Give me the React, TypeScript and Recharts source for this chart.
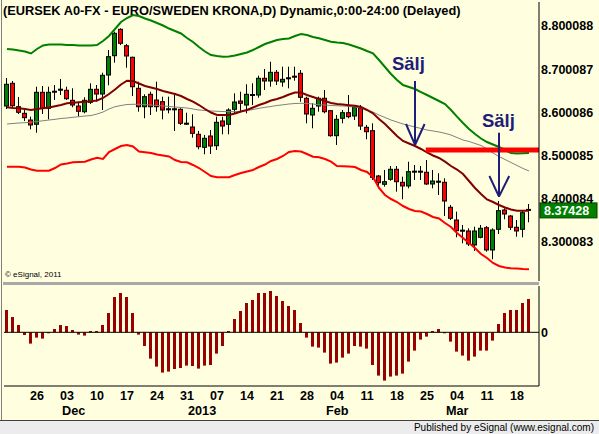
import React from 'react';
import { ComposedChart, Bar, Line, XAxis, YAxis, ReferenceLine, ReferenceDot } from 'recharts';

const dates = [
  '2012-11-19','2012-11-20','2012-11-21','2012-11-22','2012-11-23','2012-11-26','2012-11-27','2012-11-28','2012-11-29','2012-11-30',
  '2012-12-03','2012-12-04','2012-12-05','2012-12-06','2012-12-07','2012-12-10','2012-12-11','2012-12-12','2012-12-13','2012-12-14',
  '2012-12-17','2012-12-18','2012-12-19','2012-12-20','2012-12-21','2012-12-24','2012-12-25','2012-12-26','2012-12-27','2012-12-28',
  '2012-12-31','2013-01-01','2013-01-02','2013-01-03','2013-01-04','2013-01-07','2013-01-08','2013-01-09','2013-01-10','2013-01-11',
  '2013-01-14','2013-01-15','2013-01-16','2013-01-17','2013-01-18','2013-01-21','2013-01-22','2013-01-23','2013-01-24','2013-01-25',
  '2013-01-28','2013-01-29','2013-01-30','2013-01-31','2013-02-01','2013-02-04','2013-02-05','2013-02-06','2013-02-07','2013-02-08',
  '2013-02-11','2013-02-12','2013-02-13','2013-02-14','2013-02-15','2013-02-18','2013-02-19','2013-02-20','2013-02-21','2013-02-22',
  '2013-02-25','2013-02-26','2013-02-27','2013-02-28','2013-03-01','2013-03-04','2013-03-05','2013-03-06','2013-03-07','2013-03-08',
  '2013-03-11','2013-03-12','2013-03-13','2013-03-14','2013-03-15','2013-03-18','2013-03-19','2013-03-20',
];

const openPrices = [
  8.6148, 8.6674, 8.6132, 8.5979, 8.5824, 8.5725, 8.6465, 8.6095, 8.6479, 8.6526,
  8.6512, 8.6280, 8.6148, 8.6016, 8.6234, 8.6535, 8.6426, 8.6866, 8.7313, 8.7924,
  8.7544, 8.7276, 8.6558, 8.6132, 8.6419, 8.6287, 8.6248, 8.6072, 8.6072, 8.6072,
  8.5739, 8.5662, 8.5493, 8.5192, 8.5454, 8.5229, 8.5801, 8.5725, 8.6072, 8.6264,
  8.6171, 8.6403, 8.6403, 8.6790, 8.6727, 8.6928, 8.6704, 8.6790, 8.6827, 8.6905,
  8.6327, 8.5940, 8.6148, 8.6327, 8.6040, 8.5461, 8.5864, 8.5993, 8.5917, 8.6095,
  8.5655, 8.5577, 8.4528, 8.4336, 8.4452, 8.4683, 8.4382, 8.4297, 8.4628, 8.4628,
  8.4614, 8.4343, 8.4396, 8.4382, 8.3803, 8.3509, 8.3262, 8.3255, 8.2931, 8.3109,
  8.3331, 8.2815, 8.3294, 8.3741, 8.3602, 8.3341, 8.3294, 8.3725,
];

const highPrices = [
  8.6796, 8.6727, 8.6357, 8.6056, 8.5901, 8.6595, 8.6611, 8.6595, 8.6634, 8.6773,
  8.6595, 8.6558, 8.6225, 8.6350, 8.6674, 8.6634, 8.6919, 8.7445, 8.7868, 8.7947,
  8.7584, 8.7290, 8.6711, 8.6419, 8.6479, 8.6711, 8.6364, 8.6364, 8.6442, 8.6095,
  8.5993, 8.5956, 8.5570, 8.5477, 8.5593, 8.5901, 8.5901, 8.6095, 8.6442, 8.6479,
  8.6651, 8.6674, 8.6850, 8.7005, 8.7174, 8.6982, 8.7058, 8.7058, 8.7058, 8.6982,
  8.6364, 8.6211, 8.6364, 8.6519, 8.6056, 8.5940, 8.6056, 8.6403, 8.6171, 8.6171,
  8.5709, 8.5748, 8.4551, 8.4667, 8.4759, 8.4759, 8.4512, 8.4859, 8.4783, 8.4759,
  8.4898, 8.4667, 8.4590, 8.4475, 8.3857, 8.3702, 8.3394, 8.3317, 8.3354, 8.3394,
  8.3371, 8.3317, 8.3949, 8.3780, 8.3625, 8.3509, 8.3718, 8.3880,
];

const lowPrices = [
  8.6079, 8.6125, 8.5963, 8.5801, 8.5609, 8.5530, 8.5963, 8.5840, 8.6287, 8.6403,
  8.6287, 8.6118, 8.5901, 8.5979, 8.6195, 8.6248, 8.6056, 8.6628, 8.7151, 8.7560,
  8.7035, 8.6380, 8.6016, 8.5864, 8.5940, 8.6016, 8.5840, 8.5979, 8.5570, 8.5709,
  8.5709, 8.5415, 8.5146, 8.5030, 8.5037, 8.5130, 8.5493, 8.5493, 8.5979, 8.6003,
  8.5979, 8.6171, 8.6340, 8.6519, 8.6595, 8.6634, 8.6595, 8.6558, 8.6734, 8.6248,
  8.5748, 8.5632, 8.6016, 8.5979, 8.5438, 8.5246, 8.5748, 8.5864, 8.5824, 8.5593,
  8.5378, 8.4435, 8.4243, 8.4280, 8.4419, 8.4165, 8.3989, 8.4243, 8.4435, 8.4435,
  8.4320, 8.4243, 8.4088, 8.3602, 8.3509, 8.3109, 8.2970, 8.2908, 8.2792, 8.3086,
  8.2776, 8.2600, 8.3185, 8.3526, 8.3278, 8.3123, 8.3109, 8.3456,
];

const closePrices = [
  8.6651, 8.6155, 8.6003, 8.5878, 8.5709, 8.6465, 8.6095, 8.6465, 8.6479, 8.6526,
  8.6317, 8.6171, 8.6026, 8.6280, 8.6535, 8.6426, 8.6859, 8.7290, 8.7831, 8.7600,
  8.7306, 8.6595, 8.6132, 8.6364, 8.6132, 8.6132, 8.6056, 8.6072, 8.6072, 8.5748,
  8.5739, 8.5516, 8.5206, 8.5401, 8.5222, 8.5771, 8.5685, 8.6056, 8.6241, 8.6211,
  8.6419, 8.6403, 8.6790, 8.6727, 8.6928, 8.6727, 8.6766, 8.6790, 8.6827, 8.6350,
  8.5963, 8.6095, 8.6327, 8.6016, 8.5461, 8.5840, 8.5993, 8.5901, 8.6118, 8.5685,
  8.5553, 8.4498, 8.4373, 8.4396, 8.4683, 8.4396, 8.4297, 8.4628, 8.4628, 8.4628,
  8.4343, 8.4412, 8.4396, 8.3949, 8.3549, 8.3262, 8.3262, 8.2954, 8.3255, 8.3317,
  8.2815, 8.3278, 8.3725, 8.3648, 8.3341, 8.3255, 8.3678, 8.37428,
];

const upperBand = [
  8.7468, 8.7456, 8.7433, 8.7410, 8.7364, 8.7468, 8.7549, 8.7572, 8.7572, 8.7572,
  8.7560, 8.7560, 8.7549, 8.7549, 8.7549, 8.7560, 8.7653, 8.7769, 8.7931, 8.8093,
  8.8185, 8.8255, 8.8232, 8.8174, 8.8128, 8.8070, 8.8012, 8.7942, 8.7884, 8.7827,
  8.7722, 8.7630, 8.7514, 8.7410, 8.7329, 8.7306, 8.7290, 8.7294, 8.7317, 8.7352,
  8.7387, 8.7445, 8.7514, 8.7584, 8.7630, 8.7676, 8.7699, 8.7711, 8.7769, 8.7815,
  8.7792, 8.7746, 8.7715, 8.7676, 8.7637, 8.7618, 8.7607, 8.7572, 8.7526, 8.7479,
  8.7421, 8.7368, 8.7213, 8.7051, 8.6889, 8.6750, 8.6634, 8.6588, 8.6542, 8.6472,
  8.6403, 8.6334, 8.6264, 8.6195, 8.6056, 8.5901, 8.5755, 8.5616, 8.5500, 8.5396,
  8.5315, 8.5257, 8.5199, 8.5130, 8.5060, 8.5049, 8.5053, 8.5060,
];

const lowerBand = [
  8.4743, 8.4743, 8.4743, 8.4725, 8.4678, 8.4651, 8.4651, 8.4651, 8.4713, 8.4794,
  8.4817, 8.4845, 8.4852, 8.4859, 8.4910, 8.4952, 8.4921, 8.5083, 8.5153, 8.5222,
  8.5246, 8.5211, 8.5095, 8.5077, 8.5060, 8.5026, 8.5002, 8.4979, 8.4898, 8.4852,
  8.4845, 8.4783, 8.4713, 8.4621, 8.4528, 8.4498, 8.4498, 8.4498, 8.4551, 8.4597,
  8.4632, 8.4667, 8.4736, 8.4794, 8.4875, 8.4921, 8.4991, 8.5083, 8.5107, 8.5095,
  8.5037, 8.4975, 8.4961, 8.4921, 8.4859, 8.4759, 8.4752, 8.4748, 8.4736, 8.4667,
  8.4621, 8.4505, 8.4250, 8.4088, 8.3995, 8.3926, 8.3833, 8.3764, 8.3718, 8.3706,
  8.3648, 8.3579, 8.3544, 8.3440, 8.3347, 8.3208, 8.3093, 8.2977, 8.2861, 8.2722,
  8.2630, 8.2514, 8.2445, 8.2410, 8.2391, 8.2387, 8.2375, 8.2368,
];

const fastAverage = [
  8.6118, 8.6102, 8.6095, 8.6079, 8.6056, 8.6079, 8.6095, 8.6114, 8.6141, 8.6171,
  8.6211, 8.6222, 8.6234, 8.6246, 8.6257, 8.6276, 8.6334, 8.6426, 8.6530, 8.6646,
  8.6734, 8.6727, 8.6669, 8.6611, 8.6577, 8.6542, 8.6496, 8.6461, 8.6426, 8.6380,
  8.6310, 8.6248, 8.6171, 8.6079, 8.5998, 8.5940, 8.5940, 8.5940, 8.5975, 8.6021,
  8.6056, 8.6114, 8.6171, 8.6218, 8.6276, 8.6310, 8.6357, 8.6415, 8.6461, 8.6461,
  8.6403, 8.6357, 8.6310, 8.6264, 8.6218, 8.6195, 8.6183, 8.6167, 8.6153, 8.6125,
  8.6056, 8.5979, 8.5847, 8.5732, 8.5593, 8.5454, 8.5338, 8.5280, 8.5222, 8.5153,
  8.5072, 8.5002, 8.4945, 8.4859, 8.4759, 8.4678, 8.4574, 8.4412, 8.4250, 8.4111,
  8.3984, 8.3926, 8.3857, 8.3799, 8.3753, 8.3725, 8.3725, 8.3725,
];

const slowAverage = [
  8.5732, 8.5743, 8.5755, 8.5762, 8.5773, 8.5790, 8.5806, 8.5824, 8.5840, 8.5859,
  8.5871, 8.5887, 8.5901, 8.5917, 8.5928, 8.5963, 8.6009, 8.6079, 8.6132, 8.6160,
  8.6183, 8.6188, 8.6188, 8.6183, 8.6171, 8.6160, 8.6148, 8.6137, 8.6125, 8.6114,
  8.6102, 8.6079, 8.6056, 8.6044, 8.6033, 8.6026, 8.6021, 8.6016, 8.6016, 8.6028,
  8.6044, 8.6067, 8.6095, 8.6118, 8.6137, 8.6160, 8.6176, 8.6195, 8.6206, 8.6211,
  8.6206, 8.6195, 8.6176, 8.6171, 8.6160, 8.6153, 8.6148, 8.6137, 8.6125, 8.6102,
  8.6056, 8.6009, 8.5940, 8.5882, 8.5824, 8.5778, 8.5732, 8.5697, 8.5662, 8.5628,
  8.5593, 8.5570, 8.5547, 8.5516, 8.5477, 8.5419, 8.5361, 8.5327, 8.5280, 8.5234,
  8.5153, 8.5060, 8.4979, 8.4910, 8.4840, 8.4771, 8.4702, 8.4644,
];

const oscillator = [
  0.0223, 0.0153, 0.0073, -0.0027, -0.0113, -0.0053, -0.0063, -0.0003, 0.0033, 0.0073,
  0.0063, 0.0023, -0.0023, -0.0033, 0.0013, 0.0013, 0.0073, 0.0193, 0.0353, 0.0393,
  0.0353, 0.0193, -0.0023, -0.0137, -0.0263, -0.0343, -0.0403, -0.0393, -0.0367, -0.0357,
  -0.0333, -0.0337, -0.0363, -0.0333, -0.0327, -0.0213, -0.0137, 0.0013, 0.0133, 0.0213,
  0.0293, 0.0323, 0.0393, 0.0393, 0.0413, 0.0363, 0.0313, 0.0263, 0.0223, 0.0093,
  -0.0053, -0.0143, -0.0153, -0.0203, -0.0313, -0.0303, -0.0253, -0.0213, -0.0137, -0.0143,
  -0.0163, -0.0327, -0.0433, -0.0483, -0.0443, -0.0433, -0.0413, -0.0293, -0.0183, -0.0073,
  -0.0043, 0.0013, 0.0033, -0.0003, -0.0093, -0.0193, -0.0233, -0.0283, -0.0243, -0.0183,
  -0.0183, -0.0083, 0.0083, 0.0193, 0.0223, 0.0223, 0.0293, 0.0333,
];

const priceTicks = [8.300083, 8.400084, 8.500085, 8.600086, 8.700087, 8.800088];
const weekTickIndex = [5, 10, 15, 20, 25, 30, 35, 40, 45, 50, 55, 60, 65, 70, 75, 80, 85];
const weekTickLabels = ['26', '03', '10', '17', '24', '31', '07', '14', '21', '28', '04', '11', '18', '25', '04', '11', '18'];
const monthTickIndex = [9.5, 30.5, 53.5, 73.5];
const monthTickLabels = ['Dec', '2013', 'Feb', 'Mar'];
const lastPrice = 8.37428;

const titleText = '(EURSEK A0-FX - EURO/SWEDEN KRONA,D) Dynamic,0:00-24:00 (Delayed)';

const sellArrows = [
  { label: 'Sälj', textX: 66.9, textY: 8.6982, x: 68, top: 8.6727, tip: 8.5246, armY: 8.5732, armL: 66.5, armR: 69.6 },
  { label: 'Sälj', textX: 81.9, textY: 8.5662, x: 82, top: 8.5530, tip: 8.4049, armY: 8.4528, armL: 80.4, armR: 83.7 },
];
const resistance = { from: 69.8, to: 88.6667, y: 8.513 };

const data = dates.map((d, i) => ({
  i,
  date: d,
  o: openPrices[i],
  h: highPrices[i],
  l: lowPrices[i],
  c: closePrices[i],
  up: upperBand[i],
  lo: lowerBand[i],
  ma: fastAverage[i],
  ma2: slowAverage[i],
  osc: oscillator[i],
}));

const FONT = 'Arial, "Liberation Sans", sans-serif';
const BG = '#FFFFE0';
const NAVY = '#1E1E78';
const X_DOMAIN: [number, number] = [-0.5, 88.6667];

function Candle(props: any) {
  const { x, y, width, height, payload } = props;
  if (x == null || y == null || !payload) return null;
  const top = Math.min(y, y + height);
  const h = Math.abs(height);
  const hi = payload.h;
  const lo = payload.l;
  const toY = (v: number) => top + ((hi - v) / (hi - lo)) * h;
  const cx = Math.floor(x + width / 2 + 0.01) + 0.5;
  const yo = toY(payload.o);
  const yc = toY(payload.c);
  const bTop = Math.min(yo, yc);
  const bBot = Math.max(yo, yc);
  const tiny = bBot - bTop < 1.2;
  const fill = tiny ? '#000' : payload.c > payload.o ? '#008000' : '#FF0000';
  return (
    <g>
      <line x1={cx} x2={cx} y1={top} y2={top + h} stroke="#000" strokeWidth={1} />
      <rect x={cx - 2} y={tiny ? yc - 0.5 : bTop} width={4} height={tiny ? 1 : bBot - bTop} fill={fill} stroke="#000" strokeWidth={1} />
    </g>
  );
}

function OscBar(props: any) {
  const { x, y, width, height } = props;
  if (x == null || y == null) return null;
  const cx = Math.floor(x + width / 2 + 0.01);
  const top = Math.min(y, y + height);
  const h = Math.max(1, Math.abs(height));
  return <rect x={cx - 1} y={top} width={3} height={h} fill="#990000" />;
}

function MonthTick(props: any) {
  const { x, y, payload } = props;
  const idx = monthTickIndex.indexOf(payload.value);
  return (
    <text x={x - 2} y={y} dy="0.71em" textAnchor="start" fill="#000" fontSize={12.7} fontWeight="bold" fontFamily={FONT}>
      {monthTickLabels[idx]}
    </text>
  );
}

function SellLabel(text: string) {
  return (props: any) => {
    const vb = props.viewBox || {};
    const cx = (vb.x || 0) + (vb.width || 0) / 2;
    const cy = (vb.y || 0) + (vb.height || 0) / 2;
    return (
      <text x={cx} y={cy} textAnchor="middle" fill={NAVY} fontSize={18.5} fontWeight="bold" fontFamily={FONT}>
        {text}
      </text>
    );
  };
}

function LastPriceLabel(props: any) {
  const vb = props.viewBox || {};
  const right = (vb.x || 0) + (vb.width || 0);
  const cy = (vb.y || 0) + (vb.height || 0) / 2;
  return (
    <g>
      <rect x={right + 1} y={cy - 7} width={57} height={15} fill="#008000" stroke="#004000" strokeWidth={1} />
      <text x={right + 5} y={cy + 5} fill="#fff" fontSize={12.5} fontWeight="bold" fontFamily={FONT}>
        {lastPrice.toFixed(5)}
      </text>
    </g>
  );
}

export default function App() {
  return (
    <div style={{ position: 'absolute', left: 0, top: 0, width: 599, height: 434, background: BG, overflow: 'hidden', fontFamily: FONT }}>
      <div style={{ position: 'absolute', left: 0, top: 0 }}>
        <ComposedChart width={599} height={284} data={data} margin={{ top: 2, right: 0, bottom: 3, left: 4 }}>
          <XAxis type="number" dataKey="i" domain={X_DOMAIN} allowDataOverflow hide />
          <YAxis
            orientation="right"
            width={60}
            domain={[8.2097, 8.8556]}
            allowDataOverflow
            ticks={priceTicks}
            interval={0}
            tickFormatter={(v: number) => v.toFixed(6)}
            tickLine={false}
            tickSize={0}
            tickMargin={2}
            axisLine={{ stroke: '#000' }}
            tick={{ fill: '#000', fontSize: 12.5, fontWeight: 'bold', fontFamily: FONT }}
          />
          <Line type="linear" dataKey="ma2" stroke="#808080" strokeWidth={1} dot={false} isAnimationActive={false} />
          <Line type="linear" dataKey="up" stroke="#008000" strokeWidth={2} dot={false} isAnimationActive={false} />
          <Line type="linear" dataKey="lo" stroke="#FF0000" strokeWidth={2} dot={false} isAnimationActive={false} />
          <Line type="linear" dataKey="ma" stroke="#800000" strokeWidth={2} dot={false} isAnimationActive={false} />
          <Bar dataKey={(d: any) => [d.l, d.h]} barSize={5} shape={Candle} isAnimationActive={false} />
          <ReferenceLine
            segment={[{ x: resistance.from, y: resistance.y }, { x: resistance.to, y: resistance.y }]}
            stroke="#FF0000"
            strokeWidth={5}
          />
          {sellArrows.map((a, k) => (
            <ReferenceLine key={'v' + k} segment={[{ x: a.x, y: a.top }, { x: a.x, y: a.tip }]} stroke={NAVY} strokeWidth={2} />
          ))}
          {sellArrows.map((a, k) => (
            <ReferenceLine key={'l' + k} segment={[{ x: a.armL, y: a.armY }, { x: a.x, y: a.tip }]} stroke={NAVY} strokeWidth={2} />
          ))}
          {sellArrows.map((a, k) => (
            <ReferenceLine key={'r' + k} segment={[{ x: a.armR, y: a.armY }, { x: a.x, y: a.tip }]} stroke={NAVY} strokeWidth={2} />
          ))}
          {sellArrows.map((a, k) => (
            <ReferenceDot key={'t' + k} x={a.textX} y={a.textY} r={0} fill="none" stroke="none" label={SellLabel(a.label)} />
          ))}
          <ReferenceLine y={lastPrice} stroke="none" label={LastPriceLabel} />
        </ComposedChart>
      </div>
      <div style={{ position: 'absolute', left: 0, top: 284 }}>
        <ComposedChart width={599} height={136} data={data} margin={{ top: 2, right: 0, bottom: 0, left: 4 }}>
          <XAxis
            type="number"
            dataKey="i"
            domain={X_DOMAIN}
            allowDataOverflow
            ticks={weekTickIndex}
            interval={0}
            height={16}
            tickFormatter={(v: number) => weekTickLabels[weekTickIndex.indexOf(v)] || ''}
            tickLine={false}
            tickSize={0}
            tickMargin={5}
            axisLine={{ stroke: '#000' }}
            tick={{ fill: '#000', fontSize: 12.5, fontWeight: 'bold', fontFamily: FONT }}
          />
          <XAxis
            xAxisId="m"
            type="number"
            dataKey="i"
            domain={X_DOMAIN}
            allowDataOverflow
            ticks={monthTickIndex}
            interval={0}
            height={18}
            tickLine={false}
            tickSize={0}
            tickMargin={4}
            axisLine={false}
            tick={MonthTick}
          />
          <YAxis
            orientation="right"
            width={60}
            domain={[-0.0537, 0.0463]}
            allowDataOverflow
            ticks={[0]}
            interval={0}
            tickLine={false}
            tickSize={0}
            tickMargin={2}
            axisLine={{ stroke: '#000' }}
            tick={{ fill: '#000', fontSize: 12.5, fontWeight: 'bold', fontFamily: FONT }}
          />
          <ReferenceLine y={0} stroke="#000" strokeWidth={1} />
          <Bar dataKey="osc" barSize={3} shape={OscBar} isAnimationActive={false} />
        </ComposedChart>
      </div>
      <div style={{ position: 'absolute', left: 3, top: 3, fontSize: 12.8, fontWeight: 'bold', color: '#000', whiteSpace: 'nowrap', lineHeight: '15px' }}>
        {titleText}
      </div>
      <div style={{ position: 'absolute', left: 5, top: 270, fontSize: 8, color: '#000', whiteSpace: 'nowrap' }}>
        © eSignal, 2011
      </div>
      <div style={{ position: 'absolute', left: 3, top: 282, width: 536, height: 3, background: '#A8A8A8' }} />
      <div style={{ position: 'absolute', left: 1, top: 0, width: 1, height: 420, background: '#808080' }} />
      <div style={{ position: 'absolute', left: 0, top: 420, width: 599, height: 14, background: '#ECECEC', borderTop: '1px solid #404040', boxSizing: 'border-box' }}>
        <div style={{ position: 'absolute', right: 5, top: 1, fontSize: 10, color: '#000', whiteSpace: 'nowrap' }}>
          Published by eSignal (www.esignal.com)
        </div>
      </div>
    </div>
  );
}
